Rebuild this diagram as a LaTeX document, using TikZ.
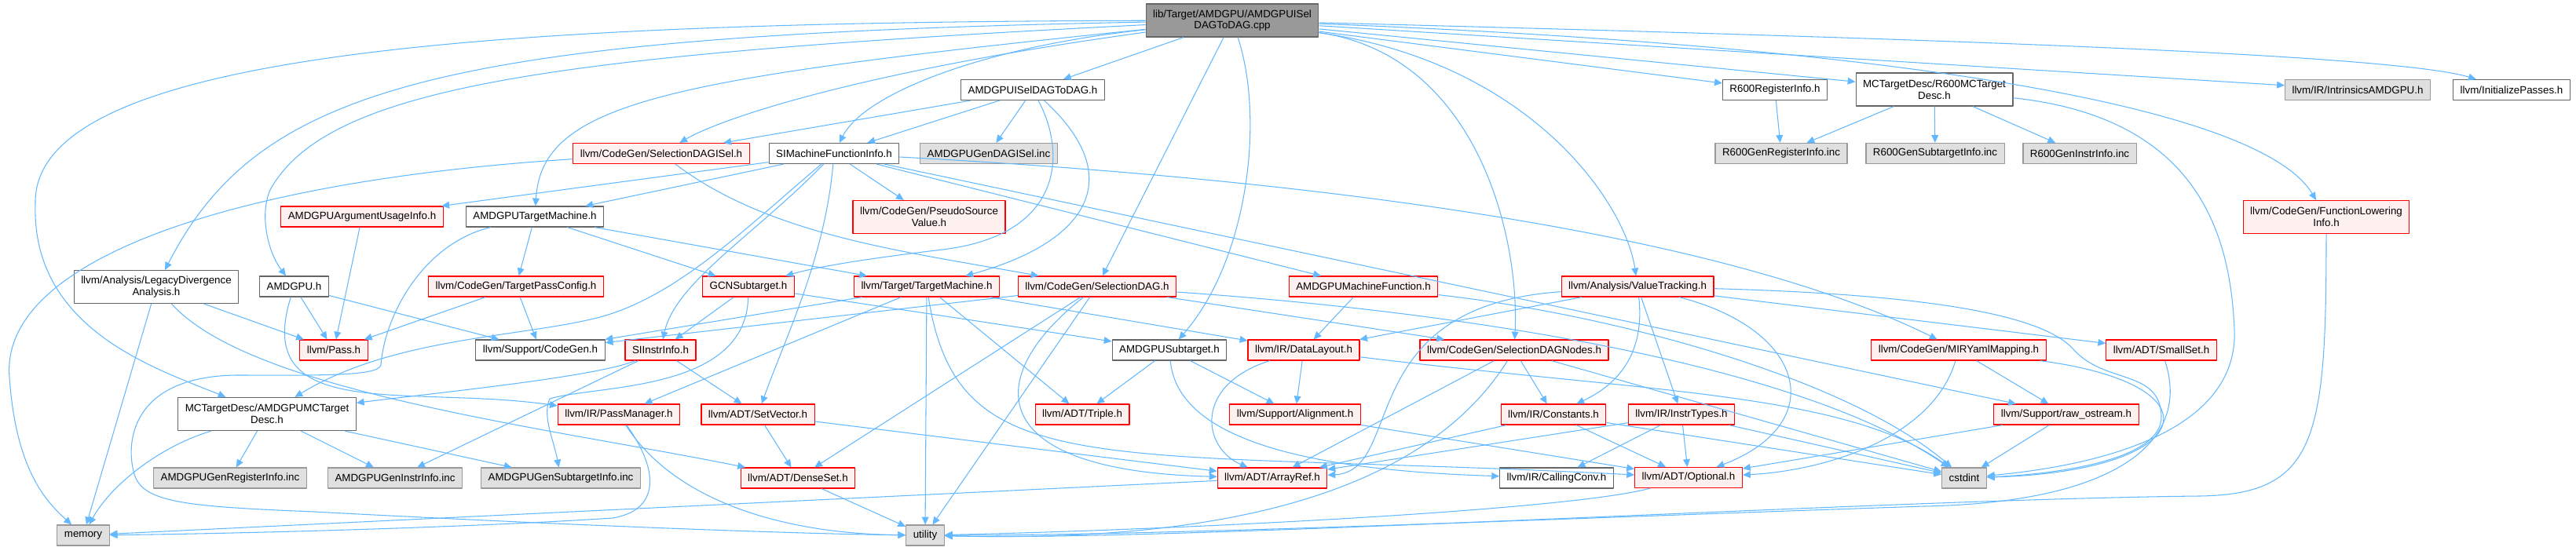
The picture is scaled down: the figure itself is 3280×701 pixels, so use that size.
\documentclass[tikz,border=0pt]{standalone}
\usepackage{fontspec}
\setsansfont{Liberation Sans}
\usetikzlibrary{arrows.meta}
\definecolor{edgeblue}{HTML}{63B8FF}
\definecolor{srcgray}{HTML}{999999}
\definecolor{sysfill}{HTML}{E0E0E0}
\definecolor{hdrline}{HTML}{666666}
\definecolor{cutfill}{HTML}{FFF0F0}

\begin{document}
\begin{tikzpicture}[x=0.02cm,y=-0.02cm,font=\sffamily\fontsize{7.6}{8.3}\selectfont,>={Triangle[length=5.6pt,width=5pt]},line join=round]
  \tikzset{hdr/.style={draw=hdrline,fill=white,line width=0.65pt,inner xsep=0.18cm,inner ysep=1pt,minimum height=0.52cm,align=center},
    two/.style={minimum height=0.84cm},
    sysinc/.style={hdr,draw=srcgray,fill=sysfill},
    cut/.style={hdr,draw=red,fill=cutfill},
    src/.style={hdr,fill=srcgray},
    dep/.style={->,draw=edgeblue,line width=0.6pt}}
  \useasboundingbox (0,0) rectangle (3280,701);
  % Top
  \node[src,two] (root) at (1569,26) {lib/Target/AMDGPU/AMDGPUISel\\DAGToDAG.cpp};
  \node[hdr] (isel) at (1315,114.5) {AMDGPUISelDAGToDAG.h};
  \node[hdr] (r600reg) at (2260,114.5) {R600RegisterInfo.h};
  \node[hdr,two] (r600mc) at (2463,114) {MCTargetDesc/R600MCTarget\\Desc.h};
  \node[sysinc] (intrin) at (3002,114.5) {llvm/IR/IntrinsicsAMDGPU.h};
  \node[hdr] (initpass) at (3198,114.5) {llvm/InitializePasses.h};
  % Second row
  \node[cut] (dagisel) at (842,195.5) {llvm/CodeGen/SelectionDAGISel.h};
  \node[hdr] (simfi) at (1062,195.5) {SIMachineFunctionInfo.h};
  \node[sysinc] (daginc) at (1259,195.5) {AMDGPUGenDAGISel.inc};
  \node[sysinc] (r6reginc) at (2268,195.5) {R600GenRegisterInfo.inc};
  \node[sysinc] (r6subinc) at (2464,195.5) {R600GenSubtargetInfo.inc};
  \node[sysinc] (r6instinc) at (2648,195.5) {R600GenInstrInfo.inc};
  % Third row
  \node[cut] (argusage) at (461,276) {AMDGPUArgumentUsageInfo.h};
  \node[hdr] (amdgputm) at (681,276) {AMDGPUTargetMachine.h};
  \node[cut,two] (pseudo) at (1183,276.5) {llvm/CodeGen/PseudoSource\\Value.h};
  \node[cut,two] (funclow) at (2962,276.5) {llvm/CodeGen/FunctionLowering\\Info.h};
  % Fourth row
  \node[hdr,two] (lda) at (199,365.5) {llvm/Analysis/LegacyDivergence\\Analysis.h};
  \node[hdr] (amdgpu) at (374.5,365) {AMDGPU.h};
  \node[cut] (tpc) at (657,365) {llvm/CodeGen/TargetPassConfig.h};
  \node[cut] (gcn) at (953,365) {GCNSubtarget.h};
  \node[cut] (tm) at (1180,365) {llvm/Target/TargetMachine.h};
  \node[cut] (sdag) at (1397,365) {llvm/CodeGen/SelectionDAG.h};
  \node[cut] (mfunc) at (1736,365) {AMDGPUMachineFunction.h};
  \node[cut] (vt) at (2085,365) {llvm/Analysis/ValueTracking.h};
  % Fifth row
  \node[cut] (pass) at (425,446) {llvm/Pass.h};
  \node[hdr] (cgen) at (688,446) {llvm/Support/CodeGen.h};
  \node[cut] (siinstr) at (841,446) {SIInstrInfo.h};
  \node[hdr] (subtgt) at (1489,446) {AMDGPUSubtarget.h};
  \node[cut] (dl) at (1660,446) {llvm/IR/DataLayout.h};
  \node[cut] (sdnodes) at (1928,446) {llvm/CodeGen/SelectionDAGNodes.h};
  \node[cut] (mir) at (2494,446) {llvm/CodeGen/MIRYamlMapping.h};
  \node[cut] (smallset) at (2752,446) {llvm/ADT/SmallSet.h};
  % Sixth row
  \node[hdr,two] (mcdesc) at (340,527.5) {MCTargetDesc/AMDGPUMCTarget\\Desc.h};
  \node[cut] (pm) at (788,528) {llvm/IR/PassManager.h};
  \node[cut] (setvec) at (965,528) {llvm/ADT/SetVector.h};
  \node[cut] (triple) at (1378,528) {llvm/ADT/Triple.h};
  \node[cut] (align) at (1649,528) {llvm/Support/Alignment.h};
  \node[cut] (consts) at (1978,528) {llvm/IR/Constants.h};
  \node[cut] (instr) at (2141,528) {llvm/IR/InstrTypes.h};
  \node[cut] (rawos) at (2631,528) {llvm/Support/raw\_ostream.h};
  % Seventh row
  \node[sysinc] (genreg) at (293,609) {AMDGPUGenRegisterInfo.inc};
  \node[sysinc] (geninstr) at (503,609) {AMDGPUGenInstrInfo.inc};
  \node[sysinc] (gensub) at (714,609) {AMDGPUGenSubtargetInfo.inc};
  \node[cut] (denseset) at (1016,609) {llvm/ADT/DenseSet.h};
  \node[cut] (arrayref) at (1620,609) {llvm/ADT/ArrayRef.h};
  \node[hdr] (callconv) at (1982,609) {llvm/IR/CallingConv.h};
  \node[cut] (optional) at (2150,608.5) {llvm/ADT/Optional.h};
  \node[sysinc] (cstdint) at (2501,609) {cstdint};
  % Bottom
  \node[sysinc] (memory) at (106,682) {memory};
  \node[sysinc] (utility) at (1178,682) {utility};
  % Straight includes
  \foreach \a/\b in {root/isel,root/sdag,root/r600reg,root/r600mc,root/intrin,
    isel/dagisel,isel/simfi,isel/daginc,
    simfi/argusage,simfi/amdgputm,simfi/pseudo,simfi/mfunc,simfi/rawos,
    argusage/pass,amdgputm/tpc,amdgputm/gcn,amdgputm/tm,
    lda/pass,lda/memory,amdgpu/pass,amdgpu/cgen,tpc/pass,tpc/cgen,
    gcn/siinstr,gcn/subtgt,
    tm/cgen,tm/pm,tm/dl,tm/triple,tm/utility,
    sdag/cgen,sdag/denseset,sdag/utility,sdag/sdnodes,
    mfunc/dl,vt/dl,vt/instr,vt/smallset,
    siinstr/setvec,siinstr/geninstr,
    subtgt/triple,subtgt/align,dl/align,
    sdnodes/consts,sdnodes/arrayref,sdnodes/cstdint,mir/rawos,
    mcdesc/genreg,mcdesc/geninstr,mcdesc/gensub,
    setvec/denseset,setvec/arrayref,align/optional,
    consts/arrayref,consts/optional,consts/cstdint,
    instr/arrayref,instr/callconv,instr/optional,instr/cstdint,
    rawos/optional,rawos/cstdint,denseset/utility,arrayref/memory,
    r600reg/r6reginc,r600mc/r6reginc,r600mc/r6subinc,r600mc/r6instinc}
    \draw[dep] (\a) -- (\b);
  % Curved includes from the source file
  \draw[dep] (root) .. controls (600,28) and (40,70) .. (45,260) .. controls (40,420) and (200,470) .. (mcdesc);
  \draw[dep] (root) .. controls (560,45) and (330,110) .. (lda);
  \draw[dep] (root) .. controls (700,70) and (420,110) .. (345,240) .. controls (330,270) and (340,320) .. (amdgpu);
  \draw[dep] (root) .. controls (850,100) and (690,130) .. (amdgputm);
  \draw[dep] (root) .. controls (1100,90) and (920,150) .. (dagisel);
  \draw[dep] (root) .. controls (1250,60) and (1100,120) .. (simfi);
  \draw[dep] (root) .. controls (1610,150) and (1590,330) .. (subtgt);
  \draw[dep] (root) .. controls (1880,70) and (1935,300) .. (sdnodes);
  \draw[dep] (root) .. controls (1950,80) and (2070,260) .. (vt);
  \draw[dep] (root) .. controls (2450,60) and (2880,140) .. (funclow);
  \draw[dep] (root) .. controls (2500,50) and (3050,70) .. (initpass);
  % Curved includes, upper part
  \draw[dep] (isel) .. controls (1360,200) and (1350,300) .. (1200,318) .. controls (1100,330) and (1040,340) .. (gcn);
  \draw[dep] (isel) .. controls (1440,230) and (1380,310) .. (tm);
  \draw[dep] (simfi) .. controls (950,290) and (860,380) .. (760,405) .. controls (660,430) and (500,430) .. (mcdesc);
  \draw[dep] (simfi) .. controls (960,300) and (860,360) .. (siinstr);
  \draw[dep] (simfi) .. controls (1050,330) and (1000,430) .. (setvec);
  \draw[dep] (simfi) .. controls (1700,230) and (2200,300) .. (mir);
  \draw[dep] (dagisel) .. controls (980,300) and (1150,320) .. (sdag);
  \draw[dep] (dagisel) .. controls (300,230) and (0,330) .. (12,480) .. controls (20,600) and (60,640) .. (memory);
  \draw[dep] (amdgputm) .. controls (540,310) and (490,400) .. (485,465) .. controls (482,480) and (400,478) .. (300,478)
    .. controls (170,480) and (160,560) .. (170,600) .. controls (178,640) and (230,645) .. (400,652)
    .. controls (700,668) and (1000,680) .. (utility);
  \draw[dep] (amdgpu) .. controls (320,540) and (520,490) .. (pm);
  \draw[dep] (lda) .. controls (320,500) and (700,545) .. (denseset);
  \draw[dep] (gcn) .. controls (950,500) and (760,490) .. (700,508) .. controls (690,530) and (705,560) .. (gensub);
  \draw[dep] (siinstr) .. controls (760,480) and (560,500) .. (mcdesc);
  \draw[dep] (mcdesc) .. controls (200,570) and (140,620) .. (memory);
  \draw[dep] (pm) .. controls (840,600) and (840,650) .. (780,660) .. controls (600,672) and (300,680) .. (memory);
  \draw[dep] (pm) .. controls (860,640) and (1000,680) .. (utility);
  % Curved includes, lower part
  \draw[dep] (tm) .. controls (1220,620) and (1400,570) .. (optional);
  \draw[dep] (sdag) .. controls (1250,480) and (1250,600) .. (arrayref);
  \draw[dep] (sdag) .. controls (1900,400) and (2300,470) .. (cstdint);
  \draw[dep] (mfunc) .. controls (2050,400) and (2350,480) .. (cstdint);
  \draw[dep] (dl) .. controls (1520,490) and (1530,570) .. (arrayref);
  \draw[dep] (dl) .. controls (2100,500) and (2350,500) .. (cstdint);
  \draw[dep] (vt) .. controls (1720,390) and (1790,600) .. (arrayref);
  \draw[dep] (vt) .. controls (2095,450) and (2060,490) .. (consts);
  \draw[dep] (vt) .. controls (2300,420) and (2330,540) .. (optional);
  \draw[dep] (vt) .. controls (2450,375) and (2600,400) .. (2640,445) .. controls (2680,490) and (2750,470) .. (2752,530)
    .. controls (2754,590) and (2600,605) .. (cstdint);
  \draw[dep] (sdnodes) .. controls (1800,650) and (1500,690) .. (utility);
  \draw[dep] (subtgt) .. controls (1500,570) and (1700,600) .. (callconv);
  \draw[dep] (mir) .. controls (2460,560) and (2320,600) .. (optional);
  \draw[dep] (mir) .. controls (2830,490) and (2800,600) .. (cstdint);
  \draw[dep] (smallset) .. controls (2790,560) and (2700,640) .. (2450,645) .. controls (2000,660) and (1500,682) .. (utility);
  \draw[dep] (r600mc) .. controls (2800,150) and (2840,300) .. (2845,420) .. controls (2850,540) and (2700,590) .. (cstdint);
  \draw[dep] (funclow) .. controls (2962,560) and (2950,630) .. (2800,632) .. controls (2400,636) and (1500,690) .. (utility);
  \draw[dep] (optional) .. controls (2000,650) and (1500,675) .. (utility);
\end{tikzpicture}
\end{document}
